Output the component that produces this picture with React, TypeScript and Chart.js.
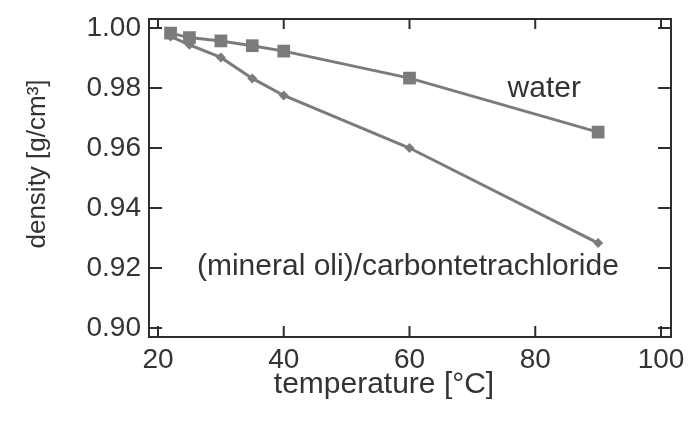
import React, { useEffect, useRef } from "react";
import { Chart, registerables } from "chart.js";

Chart.register(...registerables);

const temperatures = [22, 25, 30, 35, 40, 60, 90];
const waterDensity = [0.9983, 0.9968, 0.9957, 0.9941, 0.9923, 0.9833, 0.9653];
const oilDensity = [0.9972, 0.9944, 0.9902, 0.9832, 0.9775, 0.9600, 0.9283];
const xTicks = [20, 40, 60, 80, 100];
const yTicks = [0.9, 0.92, 0.94, 0.96, 0.98, 1.0];
const labelWater = "water";
const labelOil = "(mineral oli)/carbontetrachloride";
const xTitle = "temperature [°C]";
const yTitle = "density [g/cm³]";

const GRAY = "#7b7b7b";
const AXIS = "#2e2e2e";
const TEXT = "#333333";
const FONT = "'Liberation Sans', Arial, sans-serif";

const boxPlugin = {
  id: "boxPlugin",
  afterDraw(chart: any) {
    const { ctx, chartArea } = chart;
    const { left, right, top, bottom } = chartArea;
    const xs = chart.scales.x;
    const ys = chart.scales.y;
    ctx.save();
    ctx.strokeStyle = AXIS;
    ctx.lineWidth = 2;
    ctx.beginPath();
    ctx.rect(left, top, right - left, bottom - top);
    ctx.stroke();
    ctx.beginPath();
    xTicks.forEach((v) => {
      const px = xs.getPixelForValue(v);
      ctx.moveTo(px, bottom);
      ctx.lineTo(px, bottom - 11);
      ctx.moveTo(px, top);
      ctx.lineTo(px, top + 10);
    });
    yTicks.forEach((v) => {
      const py = ys.getPixelForValue(v);
      ctx.moveTo(left, py);
      ctx.lineTo(left + 13, py);
      ctx.moveTo(right, py);
      ctx.lineTo(right - 13, py);
    });
    ctx.stroke();

    // series labels
    ctx.fillStyle = TEXT;
    ctx.font = `30px ${FONT}`;
    ctx.textBaseline = "alphabetic";
    ctx.textAlign = "left";
    ctx.fillText(labelWater, xs.getPixelForValue(75.6), ys.getPixelForValue(0.977));
    ctx.fillText(labelOil, xs.getPixelForValue(26.2), ys.getPixelForValue(0.9177));

    // axis titles
    ctx.font = `30px ${FONT}`;
    ctx.textAlign = "center";
    ctx.textBaseline = "middle";
    ctx.fillText(xTitle, 384, 385);
    ctx.save();
    ctx.translate(38, 164);
    ctx.rotate(-Math.PI / 2);
    ctx.font = `26px ${FONT}`;
    ctx.fillText(yTitle, 0, 0);
    ctx.restore();
    ctx.restore();
  },
};

export default function App() {
  const ref = useRef<HTMLCanvasElement>(null);
  useEffect(() => {
    document.body.style.margin = "0";
    const canvas = ref.current!;
    const chart = new Chart(canvas, {
      type: "line",
      data: {
        datasets: [
          {
            label: "water",
            data: temperatures.map((t, i) => ({ x: t, y: waterDensity[i] })),
            borderColor: GRAY,
            backgroundColor: GRAY,
            borderWidth: 3,
            pointStyle: "rect",
            pointRadius: 9,
            pointBorderWidth: 0,
          },
          {
            label: "oil",
            data: temperatures.map((t, i) => ({ x: t, y: oilDensity[i] })),
            borderColor: GRAY,
            backgroundColor: GRAY,
            borderWidth: 3,
            pointStyle: "rectRot",
            pointRadius: 5,
            pointBorderWidth: 0,
          },
        ],
      },
      options: {
        responsive: false,
        animation: false,
        layout: { padding: { top: 19, right: 18, left: 0, bottom: 0 } },
        plugins: { legend: { display: false }, tooltip: { enabled: false } },
        scales: {
          x: {
            type: "linear",
            min: 18.57,
            max: 101.59,
            grid: { display: false },
            border: { display: false },
            afterBuildTicks: (s: any) => {
              s.ticks = xTicks.map((v) => ({ value: v }));
            },
            afterFit: (s: any) => {
              s.height = 84;
            },
            ticks: {
              padding: -2,
              color: TEXT,
              font: { family: FONT, size: 28 },
              maxRotation: 0,
              callback: (v: any) => String(v),
            },
          },
          y: {
            type: "linear",
            min: 0.897,
            max: 1.003,
            grid: { display: false },
            border: { display: false },
            afterBuildTicks: (s: any) => {
              s.ticks = yTicks.map((v) => ({ value: v }));
            },
            afterFit: (s: any) => {
              s.width = 149;
            },
            ticks: {
              padding: 0,
              color: TEXT,
              font: { family: FONT, size: 28 },
              callback: (v: any) => Number(v).toFixed(2),
            },
          },
        },
      },
      plugins: [boxPlugin],
    });
    return () => chart.destroy();
  }, []);
  return (
    <div style={{ width: 689, height: 421 }}>
      <canvas ref={ref} width={689} height={421} style={{ display: "block" }} />
    </div>
  );
}
